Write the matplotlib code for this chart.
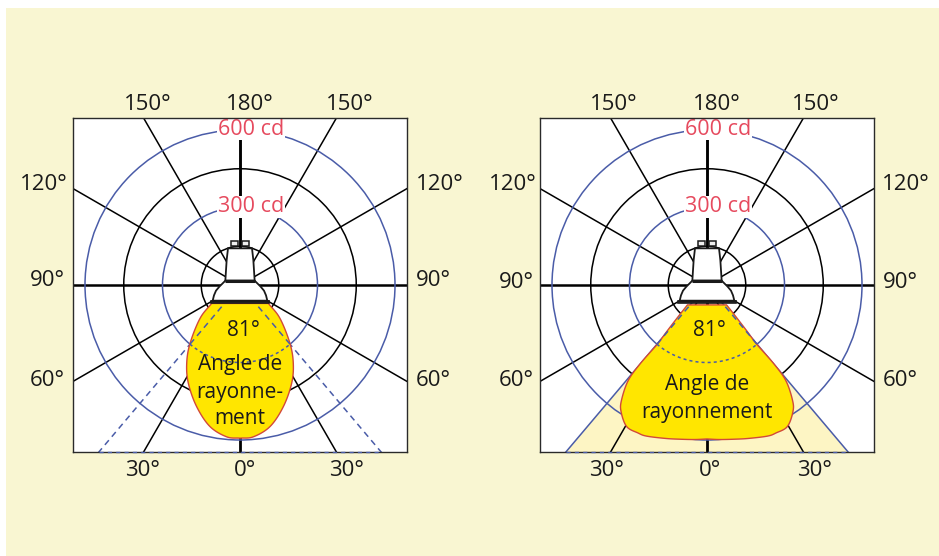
import numpy as np
import matplotlib
matplotlib.use("Agg")
import matplotlib.pyplot as plt
from matplotlib.patches import Circle, Polygon, Rectangle

plt.rcParams['font.family'] = ['Open Sans', 'DejaVu Sans']

W, H = 939, 556
BG = '#F9F6D2'
CREAM = '#FDF5C4'
YELLOW = '#FFE600'
RED = '#D2493A'
BLUE = '#4A5CA8'
LABEL_RED = '#E64A5E'
INK = '#1A1A1A'
FS = 15
FS_AXIS = 16

# Values
spoke_angles = [30, 60, 90, 120, 150, 180]
black_rings_cd = [150, 450]
blue_rings_cd = [300, 600]
ring_labels = ['300 cd', '600 cd']
beam_half_angle = 40.2

left_angles = [57, 50.2, 40.6, 34.2, 27.7, 19.6, 12, 5, 0]
left_cd = [131, 201, 297, 367, 430, 500, 560, 590, 593]

right_angles = [44.5, 42.5, 41, 40.3, 40, 40.3, 39.5, 36.6, 34.2, 29.6, 25, 21.8, 15, 9.9, 4.5, 0]
right_cd = [108, 160, 230, 270, 303, 400, 480, 555, 592, 630, 632, 630, 615, 606, 600, 596]

axis_labels = ['0°', '30°', '60°', '90°', '120°', '150°', '180°']

PX = 155 / 600  # pixels per candela
AX_HALF = 167 / PX

fig = plt.figure(figsize=(W / 100, H / 100), dpi=100, facecolor='white')
bg = fig.add_axes([0, 0, 1, 1], zorder=0)
bg.set_xlim(0, W); bg.set_ylim(H, 0); bg.axis('off')
bg.add_patch(Rectangle((6, 8), W - 6, H - 8, fc=BG, ec='none'))


def smooth(x, y, n=12):
    """Catmull-Rom curve through the read points."""
    p = np.column_stack([x, y])
    p = np.vstack([2 * p[0] - p[1], p, 2 * p[-1] - p[-2]])
    out = []
    for i in range(1, len(p) - 2):
        for t in np.linspace(0, 1, n, endpoint=False):
            out.append(0.5 * ((2 * p[i]) + (p[i + 1] - p[i - 1]) * t
                              + (2 * p[i - 1] - 5 * p[i] + 4 * p[i + 1] - p[i + 2]) * t ** 2
                              + (3 * p[i] - p[i - 1] - 3 * p[i + 1] + p[i + 2]) * t ** 3))
    out.append(p[-2])
    return np.array(out)


def lobe(angles, cd):
    a = np.radians(np.array(angles, float))
    r = np.array(cd, float)
    half = smooth(r * np.sin(a), -r * np.cos(a))
    mirrored = half[::-1][1:] * [-1, 1]
    return np.vstack([half, mirrored])


def bulb(ax):
    u = 1 / PX / 3  # outline sketched in reference zoom units
    cy = 165
    def P(pts):
        return [(x * u, (cy - y) * u) for x, y in pts]
    for x0, x1 in [(-26, -7), (7, 27)]:
        ax.add_patch(Polygon(P([(x0, 33), (x1, 33), (x1, 47), (x0, 47)]), closed=True,
                             fc='#EEEEEE', ec=INK, lw=1.1, zorder=6))
    ax.add_patch(Polygon(P([(-36, 55), (36, 55), (40, 90), (44, 152), (-44, 152), (-40, 90)]),
                         closed=True, fc='white', ec=INK, lw=1.3, zorder=6))
    ax.add_patch(Polygon(P([(-44, 152), (44, 152), (62, 170), (72, 182), (78, 196), (82, 212),
                            (-82, 212), (-78, 196), (-72, 182), (-62, 170)]),
                         closed=True, fc='white', ec=INK, lw=1.3, zorder=6))
    ax.plot(*zip(*P([(-44, 152), (44, 152)])), color=INK, lw=2.2, zorder=7, solid_capstyle='butt')
    ax.add_patch(Polygon(P([(-86, 212), (86, 212), (86, 219), (-86, 219)]), closed=True,
                         fc='#CCCCCC', ec=INK, lw=1.2, zorder=7))
    ax.plot(*zip(*P([(-86, 212), (86, 212)])), color=INK, lw=1.8, zorder=7, solid_capstyle='butt')


def panel(cx, angles, cd, wide):
    left = (cx - 167) / W
    ax = fig.add_axes([left, (H - 452) / H, 334 / W, 334 / H], zorder=1)
    ax.set_xlim(-AX_HALF, AX_HALF)
    ax.set_ylim(-AX_HALF, AX_HALF)
    ax.set_aspect('equal')
    ax.set_xticks([]); ax.set_yticks([])
    for s in ax.spines.values():
        s.set_linewidth(1.0); s.set_color('#2A2A2A'); s.set_zorder(10)

    far = AX_HALF * 1.6
    t = np.radians(beam_half_angle)
    if wide:
        ax.add_patch(Polygon([(0, 0), (far * np.sin(t), -far * np.cos(t)),
                              (-far * np.sin(t), -far * np.cos(t))], closed=True,
                             fc=CREAM, ec='none', zorder=1))

    for a in spoke_angles:
        s, c = np.sin(np.radians(a)), -np.cos(np.radians(a))
        lw = 1.8 if a in (90, 180) else 1.1
        for sign in (1, -1):
            ax.plot([0, sign * far * s], [0, far * c], color='black', lw=lw, zorder=2,
                    solid_capstyle='butt')
    ax.plot([0, 0], [0, -far], color='black', lw=2.0, zorder=2)

    for r in black_rings_cd:
        ax.add_patch(Circle((0, 0), r, fc='none', ec='black', lw=1.1, zorder=3))
    for r in blue_rings_cd:
        ax.add_patch(Circle((0, 0), r, fc='none', ec=BLUE, lw=1.1, zorder=3))

    for sign in (1, -1):
        ax.plot([0, sign * far * np.sin(t)], [0, -far * np.cos(t)], color=BLUE, lw=1.1,
                ls=(0, (4, 3)) if not wide else '-', zorder=3)
    # dashed chord closing the beam along the bottom frame
    bx = AX_HALF * np.tan(t)
    ax.plot([-bx, bx], [-AX_HALF, -AX_HALF], color=BLUE, lw=1.0, ls=(0, (3, 3)), zorder=11,
            clip_on=False)

    shape = lobe(angles, cd)
    ax.add_patch(Polygon(shape, closed=True, fc=YELLOW, ec=RED, lw=1.0, zorder=4))

    # dashed beam limits and 300 cd arc over the yellow lobe
    arc = np.radians(np.linspace(-beam_half_angle, beam_half_angle, 60))
    ax.plot(300 * np.sin(arc), -300 * np.cos(arc), color=BLUE, lw=1.1, ls=(0, (2, 2)), zorder=5)
    for sign in (1, -1):
        ax.plot([sign * 110 * np.sin(t), sign * 300 * np.sin(t)],
                [-110 * np.cos(t), -300 * np.cos(t)], color=BLUE, lw=1.1, ls=(0, (4, 3)), zorder=5)

    bulb(ax)

    for r, lab in zip(blue_rings_cd, ring_labels):
        ax.text(11 / PX, r + 1.5 / PX * 0.6, lab, ha='center', va='center', fontsize=FS_AXIS - 0.5,
                color=LABEL_RED, zorder=8,
                bbox=dict(boxstyle='square,pad=0.02', fc='white', ec='none'))
    return ax


def scale_labels(cx, places):
    for s, (dl, dr, y) in zip(axis_labels, places):
        bg.text(cx + dl, y + 1, s, ha='center', va='center', fontsize=FS_AXIS, color=INK)
        if dr is not None:
            bg.text(cx + dr, y + 1, s, ha='center', va='center', fontsize=FS_AXIS, color=INK)


def lobe_text(cx, lines):
    for s, dx, y in lines:
        fig.text((cx + dx) / W, 1 - (y + 1.5) / H, s, ha='center', va='center', fontsize=FS,
                 color=INK, zorder=5)


panel(240, left_angles, left_cd, False)
panel(707, right_angles, right_cd, True)

scale_labels(240, [(5, None, 470), (-98, 107, 470), (-193, 193, 380), (-193, 193, 280),
                   (-196, 200, 184), (-92, 110, 103), (10, None, 103)])
scale_labels(707, [(3, None, 470), (-100, 107, 470), (-191, 193, 380), (-191, 193, 281),
                   (-194, 199, 184), (-93, 109, 103), (10, None, 103)])

lobe_text(240, [('81°', 3, 329), ('Angle de', 0, 363), ('rayonne-', 0, 391), ('ment', 0, 417)])
lobe_text(707, [('81°', 2, 329), ('Angle de', 0, 383), ('rayonnement', 0, 411)])

fig.savefig('out.png', dpi=100, facecolor='white')
